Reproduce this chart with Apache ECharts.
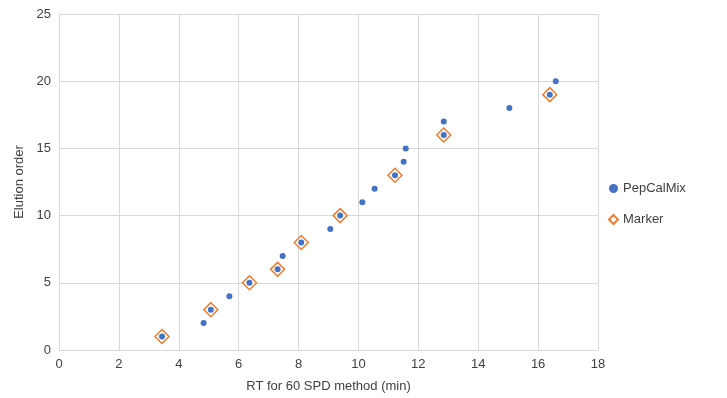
<!DOCTYPE html>
<html><head><meta charset="utf-8">
<script src="https://cdn.jsdelivr.net/npm/echarts@6/dist/echarts.min.js"></script>
<style>html,body{margin:0;padding:0;background:#fff}#c{width:727px;height:398px}</style>
</head><body><div id="c"></div>
<script>
const pepRT = [3.44, 4.83, 5.07, 5.69, 6.36, 7.30, 7.47, 8.09, 9.06, 9.39, 10.13, 10.54, 11.22, 11.51, 11.58, 12.85, 12.85, 15.04, 16.39, 16.59];
const pepOrder = [1, 2, 3, 4, 5, 6, 7, 8, 9, 10, 11, 12, 13, 14, 15, 16, 17, 18, 19, 20];
const markerRT = [3.44, 5.07, 6.36, 7.30, 8.09, 9.39, 11.22, 12.85, 16.39];
const markerOrder = [1, 3, 5, 6, 8, 10, 13, 16, 19];
const seriesNames = ['PepCalMix', 'Marker'];
const xTitle = 'RT for 60 SPD method (min)';
const yTitle = 'Elution order';

const font = 'Liberation Sans';
const chart = echarts.init(document.getElementById('c'));
chart.setOption({
  animation: false,
  grid: {left: 59, right: 129, top: 14, bottom: 48},
  legend: {
    orient: 'vertical', left: 603, top: 177, itemGap: 18,
    itemWidth: 9, itemHeight: 9,
    textStyle: {fontFamily: font, fontSize: 13, color: '#404040'},
    data: seriesNames
  },
  xAxis: {
    type: 'value', min: 0, max: 18, interval: 2,
    name: xTitle, nameLocation: 'middle', nameGap: 30,
    nameTextStyle: {fontFamily: font, fontSize: 13, color: '#404040'},
    axisLine: {show: true, lineStyle: {color: '#d9d9d9'}},
    axisTick: {show: false},
    axisLabel: {fontFamily: font, fontSize: 13, color: '#404040', margin: 8},
    splitLine: {show: true, lineStyle: {color: '#d9d9d9'}}
  },
  yAxis: {
    type: 'value', min: 0, max: 25, interval: 5,
    name: yTitle, nameLocation: 'middle', nameGap: 33,
    nameTextStyle: {fontFamily: font, fontSize: 13, color: '#404040'},
    axisLine: {show: true, lineStyle: {color: '#d9d9d9'}},
    axisTick: {show: false},
    axisLabel: {fontFamily: font, fontSize: 13, color: '#404040', margin: 8},
    splitLine: {show: true, lineStyle: {color: '#d9d9d9'}}
  },
  series: [
    {
      name: seriesNames[1], type: 'scatter', z: 2,
      symbol: 'diamond', symbolSize: 14,
      itemStyle: {color: '#ffffff', borderColor: '#ED7D31', borderWidth: 1.5, opacity: 1},
      data: markerRT.map((x, i) => [x, markerOrder[i]])
    },
    {
      name: seriesNames[0], type: 'scatter', z: 3,
      symbol: 'circle', symbolSize: 6,
      itemStyle: {color: '#4472C4', opacity: 1},
      data: pepRT.map((x, i) => [x, pepOrder[i]])
    }
  ]
});
</script></body></html>
